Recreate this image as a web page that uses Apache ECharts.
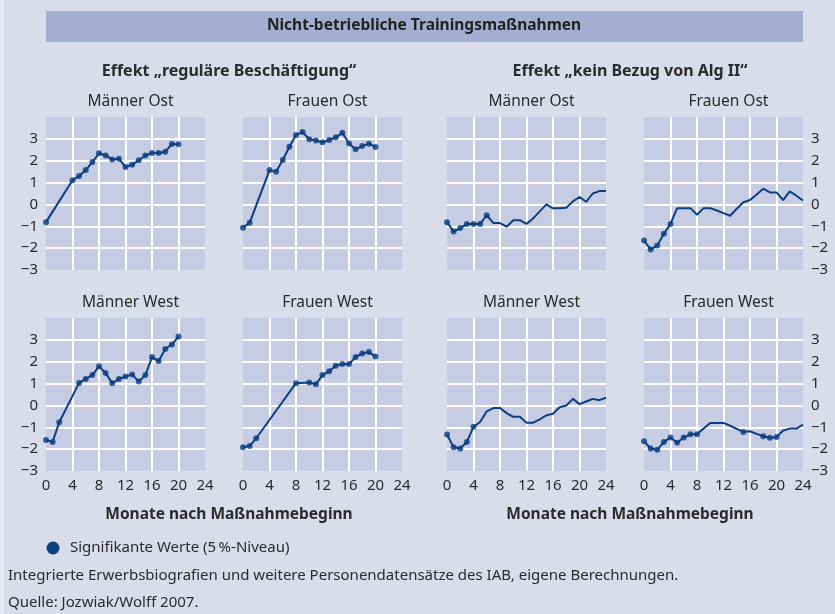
<!DOCTYPE html>
<html>
<head>
<meta charset="utf-8">
<script src="https://cdn.jsdelivr.net/npm/echarts@6/dist/echarts.min.js"></script>
<style>
  html, body { margin: 0; padding: 0; background: #d9ddea; }
  #main { width: 835px; height: 614px; }
</style>
</head>
<body>
<div id="main"></div>
<script>
// Monate (x) und Effekte (y)
var xTicks = [0, 4, 8, 12, 16, 20, 24];
var yTicks = [-3, -2, -1, 0, 1, 2, 3];

// Effekt "reguläre Beschäftigung"
var regMOstMonths = [0, 4, 5, 6, 7, 8, 9, 10, 11, 12, 13, 14, 15, 16, 17, 18, 19, 20];
var regMOstValues = [-0.81, 1.11, 1.30, 1.57, 1.94, 2.34, 2.24, 2.06, 2.09, 1.71, 1.82, 2.02, 2.24, 2.35, 2.35, 2.41, 2.76, 2.75];
var regMOstSig = regMOstMonths;

var regFOstMonths = [0, 1, 4, 5, 6, 7, 8, 9, 10, 11, 12, 13, 14, 15, 16, 17, 18, 19, 20];
var regFOstValues = [-1.07, -0.84, 1.57, 1.50, 2.03, 2.64, 3.18, 3.31, 2.98, 2.93, 2.84, 2.95, 3.07, 3.28, 2.79, 2.52, 2.67, 2.78, 2.63];
var regFOstSig = regFOstMonths;

var regMWestMonths = [0, 1, 2, 5, 6, 7, 8, 9, 10, 11, 12, 13, 14, 15, 16, 17, 18, 19, 20];
var regMWestValues = [-1.58, -1.67, -0.77, 1.03, 1.21, 1.39, 1.79, 1.48, 1.02, 1.21, 1.32, 1.42, 1.09, 1.39, 2.21, 2.03, 2.58, 2.79, 3.15];
var regMWestSig = regMWestMonths;

var regFWestMonths = [0, 1, 2, 8, 10, 11, 12, 13, 14, 15, 16, 17, 18, 19, 20];
var regFWestValues = [-1.91, -1.86, -1.50, 1.02, 1.05, 0.97, 1.39, 1.56, 1.82, 1.89, 1.89, 2.21, 2.38, 2.44, 2.24];
var regFWestSig = regFWestMonths;

// Effekt "kein Bezug von Alg II"
var algMonths = [0, 1, 2, 3, 4, 5, 6, 7, 8, 9, 10, 11, 12, 13, 14, 15, 16, 17, 18, 19, 20, 21, 22, 23, 24];

var algMOstValues = [-0.81, -1.24, -1.08, -0.89, -0.89, -0.89, -0.50, -0.85, -0.85, -1.02, -0.72, -0.72, -0.89, -0.64, -0.32, 0.00, -0.18, -0.17, -0.15, 0.14, 0.34, 0.12, 0.50, 0.61, 0.61];
var algMOstSig = [0, 1, 2, 3, 4, 5, 6];

var algFOstValues = [-1.65, -2.06, -1.88, -1.34, -0.89, -0.17, -0.17, -0.17, -0.47, -0.17, -0.17, -0.28, -0.40, -0.52, -0.20, 0.10, 0.20, 0.45, 0.72, 0.55, 0.55, 0.20, 0.60, 0.40, 0.18];
var algFOstSig = [0, 1, 2, 3, 4];

var algMWestValues = [-1.33, -1.91, -1.97, -1.67, -0.98, -0.76, -0.27, -0.12, -0.12, -0.35, -0.52, -0.52, -0.79, -0.79, -0.64, -0.45, -0.38, -0.08, 0.00, 0.30, 0.06, 0.18, 0.30, 0.24, 0.35];
var algMWestSig = [0, 1, 2, 3, 4];

var algFWestValues = [-1.64, -1.97, -2.03, -1.67, -1.47, -1.71, -1.47, -1.32, -1.32, -1.06, -0.80, -0.80, -0.80, -0.93, -1.07, -1.21, -1.18, -1.30, -1.41, -1.48, -1.45, -1.15, -1.06, -1.06, -0.88];
var algFWestSig = [0, 1, 2, 3, 4, 5, 6, 7, 8, 15, 18, 19, 20];

var BLUE = '#0b3f80';
var TEXT = '#2b2b2b';
var FONT = '"Noto Sans", "Open Sans", sans-serif';

var panels = [
  { name: 'Männer Ost',  left: 46,  top: 117, months: regMOstMonths,  values: regMOstValues,  sig: regMOstSig,  yLabel: 'left' },
  { name: 'Frauen Ost',  left: 243, top: 117, months: regFOstMonths,  values: regFOstValues,  sig: regFOstSig },
  { name: 'Männer Ost',  left: 447, top: 117, months: algMonths,      values: algMOstValues,  sig: algMOstSig },
  { name: 'Frauen Ost',  left: 644, top: 117, months: algMonths,      values: algFOstValues,  sig: algFOstSig,  yLabel: 'right' },
  { name: 'Männer West', left: 46,  top: 318, months: regMWestMonths, values: regMWestValues, sig: regMWestSig, yLabel: 'left', xLabel: true },
  { name: 'Frauen West', left: 243, top: 318, months: regFWestMonths, values: regFWestValues, sig: regFWestSig, xLabel: true },
  { name: 'Männer West', left: 447, top: 318, months: algMonths,      values: algMWestValues, sig: algMWestSig, xLabel: true },
  { name: 'Frauen West', left: 644, top: 318, months: algMonths,      values: algFWestValues, sig: algFWestSig, yLabel: 'right', xLabel: true }
];

var W = 159, H = 153;

var grids = [], xAxes = [], yAxes = [], series = [], titles = [];

panels.forEach(function (p, i) {
  grids.push({
    left: p.left, top: p.top, width: W, height: H,
    show: true, backgroundColor: '#c6cce4', borderWidth: 0
  });
  xAxes.push({
    gridIndex: i, type: 'value', min: xTicks[0], max: xTicks[xTicks.length - 1], interval: 4,
    axisLine: { show: false }, axisTick: { show: false },
    axisLabel: { show: !!p.xLabel, color: TEXT, fontSize: 15, fontFamily: FONT, margin: 7 },
    splitLine: { show: true, showMinLine: false, showMaxLine: false, lineStyle: { color: '#ffffff', width: 2 } }
  });
  yAxes.push({
    gridIndex: i, type: 'value', min: yTicks[0], max: 4, interval: 1,
    position: p.yLabel === 'right' ? 'right' : 'left',
    axisLine: { show: false }, axisTick: { show: false },
    axisLabel: {
      show: !!p.yLabel, color: TEXT, fontSize: 15, fontFamily: FONT, margin: 8,
      align: p.yLabel === 'right' ? 'left' : 'right',
      formatter: function (v) {
        if (yTicks.indexOf(v) < 0) return '';
        return v < 0 ? '\u2212' + Math.abs(v) : String(v);
      }
    },
    splitLine: { show: true, showMinLine: false, showMaxLine: false, lineStyle: { color: '#ffffff', width: 2 } }
  });

  var lineData = p.months.map(function (m, k) { return [m, p.values[k]]; });
  var sigData = lineData.filter(function (d) { return p.sig.indexOf(d[0]) >= 0; });

  series.push({
    type: 'line', xAxisIndex: i, yAxisIndex: i, data: lineData,
    showSymbol: false, lineStyle: { color: BLUE, width: 2 }, silent: true, z: 3
  });
  series.push({
    type: 'scatter', xAxisIndex: i, yAxisIndex: i, data: sigData,
    symbolSize: 6, itemStyle: { color: BLUE }, silent: true, z: 4
  });

  titles.push({
    text: p.name, left: p.left + W / 2, top: p.top - 28, textAlign: 'center',
    textStyle: { color: TEXT, fontSize: 15.5, fontWeight: 'normal', fontFamily: FONT }
  });
});

// Überschriften und Fußtexte
titles.push(
  { text: 'Effekt \u201Eregul\u00E4re Besch\u00E4ftigung\u201C', left: 224, top: 58, textAlign: 'center',
    textStyle: { color: TEXT, fontSize: 16, fontWeight: 'bold', fontFamily: FONT } },
  { text: 'Effekt \u201Ekein Bezug von Alg II\u201C', left: 625, top: 58, textAlign: 'center',
    textStyle: { color: TEXT, fontSize: 16, fontWeight: 'bold', fontFamily: FONT } },
  { text: 'Monate nach Maßnahmebeginn', left: 224, top: 502, textAlign: 'center',
    textStyle: { color: TEXT, fontSize: 15.5, fontWeight: 'bold', fontFamily: FONT } },
  { text: 'Monate nach Maßnahmebeginn', left: 625, top: 502, textAlign: 'center',
    textStyle: { color: TEXT, fontSize: 15.5, fontWeight: 'bold', fontFamily: FONT } }
);

var myChart = echarts.init(document.getElementById('main'));
myChart.setOption({
  backgroundColor: '#d9ddea',
  animation: false,
  title: titles,
  grid: grids,
  xAxis: xAxes,
  yAxis: yAxes,
  series: series,
  graphic: [
    { type: 'rect', left: 0, top: 0, shape: { width: 4, height: 614 }, style: { fill: '#e6e8f1' }, silent: true },
    { type: 'rect', left: 46, top: 11, shape: { width: 757, height: 31 }, style: { fill: '#a2afd0' }, silent: true },
    { type: 'text', x: 424, y: 26, style: { text: 'Nicht-betriebliche Trainingsmaßnahmen', fill: '#222', font: 'bold 15.5px ' + FONT, align: 'center', verticalAlign: 'middle' } },
    { type: 'circle', shape: { cx: 53, cy: 548, r: 6.5 }, style: { fill: BLUE } },
    { type: 'text', x: 70, y: 548, style: { text: 'Signifikante Werte (5\u2009%-Niveau)', fill: TEXT, font: '15px ' + FONT, verticalAlign: 'middle' } },
    { type: 'text', x: 8, y: 576, style: { text: 'Integrierte Erwerbsbiografien und weitere Personendatensätze des IAB, eigene Berechnungen.', fill: TEXT, font: '15px ' + FONT, verticalAlign: 'middle' } },
    { type: 'text', x: 8, y: 603, style: { text: 'Quelle: Jozwiak/Wolff 2007.', fill: TEXT, font: '15px ' + FONT, verticalAlign: 'middle' } }
  ]
});
</script>
</body>
</html>
